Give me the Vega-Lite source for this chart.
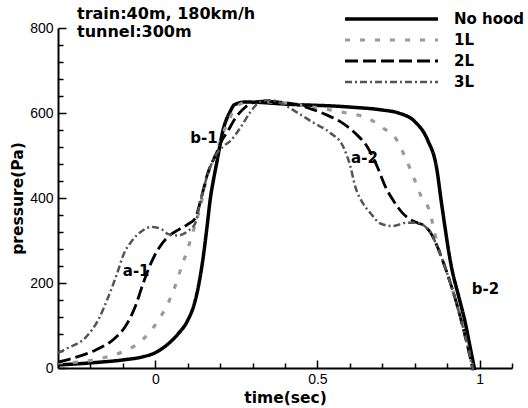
{
  "$schema": "https://vega.github.io/schema/vega-lite/v6.json",
  "width": 454,
  "height": 340,
  "autosize": {"type": "none"},
  "padding": {"left": 58, "top": 28, "right": 16, "bottom": 40},
  "background": "white",
  "config": {
    "view": {"stroke": null},
    "font": "Liberation Sans",
    "axis": {
      "domainColor": "black", "domainWidth": 2, "tickColor": "black", "tickWidth": 1.5,
      "labelColor": "black", "labelFont": "Liberation Sans", "labelFontSize": 14,
      "titleFont": "DejaVu Sans", "titleFontSize": 15.5, "titleFontWeight": "bold", "titleColor": "black",
      "grid": false, "labelOverlap": false, "labelFlush": false
    }
  },
  "title": {
    "text": ["train:40m, 180km/h", "tunnel:300m"],
    "anchor": "start", "frame": "group", "dx": 19, "offset": -31,
    "fontSize": 16, "fontWeight": "bold", "font": "DejaVu Sans", "lineHeight": 18, "color": "black"
  },
  "layer": [
    {
      "data": {"values": [
        {"s":"No hood","t":-0.3,"p":7},{"s":"No hood","t":-0.2,"p":12},{"s":"No hood","t":-0.1,"p":19},{"s":"No hood","t":-0.04,"p":26},{"s":"No hood","t":0,"p":36},{"s":"No hood","t":0.04,"p":57},{"s":"No hood","t":0.07,"p":80},{"s":"No hood","t":0.1,"p":112},{"s":"No hood","t":0.12,"p":150},{"s":"No hood","t":0.135,"p":200},{"s":"No hood","t":0.148,"p":262},{"s":"No hood","t":0.16,"p":335},{"s":"No hood","t":0.17,"p":400},{"s":"No hood","t":0.18,"p":445},{"s":"No hood","t":0.19,"p":485},{"s":"No hood","t":0.21,"p":563},{"s":"No hood","t":0.23,"p":602},{"s":"No hood","t":0.245,"p":620},{"s":"No hood","t":0.28,"p":626},{"s":"No hood","t":0.4,"p":621},{"s":"No hood","t":0.6,"p":614},{"s":"No hood","t":0.7,"p":607},{"s":"No hood","t":0.75,"p":600},{"s":"No hood","t":0.8,"p":580},{"s":"No hood","t":0.84,"p":536},{"s":"No hood","t":0.867,"p":473},{"s":"No hood","t":0.883,"p":386},{"s":"No hood","t":0.914,"p":235},{"s":"No hood","t":0.935,"p":170},{"s":"No hood","t":0.954,"p":113},{"s":"No hood","t":0.972,"p":45},{"s":"No hood","t":0.985,"p":-5},
        {"s":"1L","t":-0.3,"p":12},{"s":"1L","t":-0.225,"p":15},{"s":"1L","t":-0.15,"p":26},{"s":"1L","t":-0.1,"p":38},{"s":"1L","t":-0.06,"p":54},{"s":"1L","t":-0.02,"p":82},{"s":"1L","t":0.01,"p":113},{"s":"1L","t":0.04,"p":153},{"s":"1L","t":0.06,"p":190},{"s":"1L","t":0.08,"p":236},{"s":"1L","t":0.1,"p":280},{"s":"1L","t":0.117,"p":322},{"s":"1L","t":0.135,"p":368},{"s":"1L","t":0.16,"p":450},{"s":"1L","t":0.19,"p":510},{"s":"1L","t":0.205,"p":545},{"s":"1L","t":0.22,"p":572},{"s":"1L","t":0.24,"p":603},{"s":"1L","t":0.26,"p":620},{"s":"1L","t":0.29,"p":627},{"s":"1L","t":0.4,"p":624},{"s":"1L","t":0.5,"p":612},{"s":"1L","t":0.59,"p":600},{"s":"1L","t":0.654,"p":588},{"s":"1L","t":0.7,"p":566},{"s":"1L","t":0.745,"p":536},{"s":"1L","t":0.77,"p":497},{"s":"1L","t":0.8,"p":442},{"s":"1L","t":0.821,"p":402},{"s":"1L","t":0.843,"p":375},{"s":"1L","t":0.857,"p":335},{"s":"1L","t":0.87,"p":290},{"s":"1L","t":0.889,"p":247},{"s":"1L","t":0.91,"p":200},{"s":"1L","t":0.932,"p":144},{"s":"1L","t":0.951,"p":89},{"s":"1L","t":0.966,"p":42},{"s":"1L","t":0.98,"p":-5},
        {"s":"2L","t":-0.3,"p":14},{"s":"2L","t":-0.25,"p":24},{"s":"2L","t":-0.185,"p":42},{"s":"2L","t":-0.123,"p":71},{"s":"2L","t":-0.093,"p":97},{"s":"2L","t":-0.062,"p":144},{"s":"2L","t":-0.037,"p":200},{"s":"2L","t":-0.009,"p":254},{"s":"2L","t":0.022,"p":294},{"s":"2L","t":0.046,"p":313},{"s":"2L","t":0.071,"p":325},{"s":"2L","t":0.1,"p":338},{"s":"2L","t":0.123,"p":352},{"s":"2L","t":0.14,"p":395},{"s":"2L","t":0.16,"p":454},{"s":"2L","t":0.19,"p":508},{"s":"2L","t":0.205,"p":535},{"s":"2L","t":0.222,"p":555},{"s":"2L","t":0.247,"p":588},{"s":"2L","t":0.268,"p":607},{"s":"2L","t":0.293,"p":622},{"s":"2L","t":0.33,"p":628},{"s":"2L","t":0.44,"p":619},{"s":"2L","t":0.49,"p":607},{"s":"2L","t":0.53,"p":595},{"s":"2L","t":0.58,"p":575},{"s":"2L","t":0.62,"p":550},{"s":"2L","t":0.654,"p":520},{"s":"2L","t":0.685,"p":473},{"s":"2L","t":0.71,"p":426},{"s":"2L","t":0.735,"p":393},{"s":"2L","t":0.762,"p":365},{"s":"2L","t":0.79,"p":348},{"s":"2L","t":0.81,"p":341},{"s":"2L","t":0.827,"p":336},{"s":"2L","t":0.849,"p":318},{"s":"2L","t":0.87,"p":285},{"s":"2L","t":0.889,"p":247},{"s":"2L","t":0.91,"p":200},{"s":"2L","t":0.932,"p":144},{"s":"2L","t":0.951,"p":89},{"s":"2L","t":0.966,"p":42},{"s":"2L","t":0.98,"p":-5},
        {"s":"3L","t":-0.3,"p":35},{"s":"3L","t":-0.27,"p":47},{"s":"3L","t":-0.216,"p":71},{"s":"3L","t":-0.176,"p":113},{"s":"3L","t":-0.145,"p":167},{"s":"3L","t":-0.117,"p":224},{"s":"3L","t":-0.099,"p":265},{"s":"3L","t":-0.071,"p":300},{"s":"3L","t":-0.04,"p":323},{"s":"3L","t":-0.01,"p":332},{"s":"3L","t":0.02,"p":326},{"s":"3L","t":0.04,"p":315},{"s":"3L","t":0.07,"p":312},{"s":"3L","t":0.1,"p":322},{"s":"3L","t":0.123,"p":340},{"s":"3L","t":0.14,"p":395},{"s":"3L","t":0.16,"p":452},{"s":"3L","t":0.19,"p":505},{"s":"3L","t":0.21,"p":522},{"s":"3L","t":0.231,"p":534},{"s":"3L","t":0.262,"p":565},{"s":"3L","t":0.293,"p":602},{"s":"3L","t":0.315,"p":622},{"s":"3L","t":0.34,"p":630},{"s":"3L","t":0.36,"p":630},{"s":"3L","t":0.39,"p":622},{"s":"3L","t":0.44,"p":600},{"s":"3L","t":0.49,"p":576},{"s":"3L","t":0.54,"p":553},{"s":"3L","t":0.58,"p":520},{"s":"3L","t":0.602,"p":473},{"s":"3L","t":0.617,"p":426},{"s":"3L","t":0.64,"p":388},{"s":"3L","t":0.665,"p":363},{"s":"3L","t":0.694,"p":340},{"s":"3L","t":0.73,"p":334},{"s":"3L","t":0.778,"p":342},{"s":"3L","t":0.81,"p":341},{"s":"3L","t":0.827,"p":336},{"s":"3L","t":0.849,"p":318},{"s":"3L","t":0.87,"p":285},{"s":"3L","t":0.889,"p":247},{"s":"3L","t":0.91,"p":200},{"s":"3L","t":0.932,"p":144},{"s":"3L","t":0.951,"p":89},{"s":"3L","t":0.966,"p":42},{"s":"3L","t":0.98,"p":-5}
      ]},
      "mark": {"type": "line", "interpolate": "monotone", "clip": false, "strokeCap": "butt"},
      "encoding": {
        "x": {
          "field": "t", "type": "quantitative",
          "scale": {"domain": [-0.3, 1.1], "nice": false, "zero": false},
          "axis": {
            "title": "time(sec)",
            "values": [-0.3,-0.2,-0.1,0,0.1,0.2,0.3,0.4,0.5,0.6,0.7,0.8,0.9,1,1.1],
            "tickCount": 100,
            "tickSize": {"condition": {"test": "abs(datum.value*2 - round(datum.value*2)) < 0.001", "value": -8}, "value": -5},
            "labelExpr": "abs(datum.value) < 0.001 ? '0' : (abs(datum.value - 0.5) < 0.001 ? '0.5' : (abs(datum.value - 1) < 0.001 ? '1' : ''))",
            "labelOverlap": false,
            "labelPadding": 12,
            "titlePadding": 1
          }
        },
        "y": {
          "field": "p", "type": "quantitative",
          "scale": {"domain": [0, 800], "nice": false},
          "axis": {
            "title": "pressure(Pa)",
            "values": [0,40,80,120,160,200,240,280,320,360,400,440,480,520,560,600,640,680,720,760,800],
            "tickCount": 100,
            "tickSize": {"condition": {"test": "datum.value % 200 == 0", "value": -8}, "value": -5},
            "labelExpr": "datum.value % 200 == 0 ? datum.label : ''",
            "labelOverlap": false,
            "labelPadding": 13,
            "titlePadding": 4
          }
        },
        "color": {
          "field": "s", "type": "nominal", "title": null,
          "scale": {"domain": ["No hood", "1L", "2L", "3L"], "range": ["#000000", "#9a9a9a", "#000000", "#555555"]},
          "legend": {
            "orient": "none", "legendX": 285, "legendY": -19, "padding": 0,
            "symbolType": "stroke", "symbolSize": 8649, "clipHeight": 20, "rowPadding": 1,
            "labelFontSize": 15, "labelFontWeight": "bold", "labelFont": "DejaVu Sans", "labelColor": "black", "labelOffset": 14
          }
        },
        "strokeDash": {
          "field": "s", "type": "nominal", "title": null,
          "scale": {"domain": ["No hood", "1L", "2L", "3L"], "range": [[1, 0], [5, 10], [13, 5], [7, 3, 2, 3]]}
        },
        "strokeWidth": {
          "field": "s", "type": "nominal", "title": null,
          "scale": {"domain": ["No hood", "1L", "2L", "3L"], "range": [3.5, 2.5, 4, 3]}
        }
      }
    },
    {
      "data": {"values": [
        {"label": "b-1", "t": 0.15, "p": 541},
        {"label": "a-2", "t": 0.645, "p": 494},
        {"label": "a-1", "t": -0.059, "p": 228},
        {"label": "b-2", "t": 1.018, "p": 186}
      ]},
      "mark": {"type": "text", "fontSize": 15, "fontWeight": "bold", "font": "DejaVu Sans", "color": "black", "align": "center", "baseline": "middle"},
      "encoding": {
        "x": {"field": "t", "type": "quantitative"},
        "y": {"field": "p", "type": "quantitative"},
        "text": {"field": "label"}
      }
    }
  ]
}
